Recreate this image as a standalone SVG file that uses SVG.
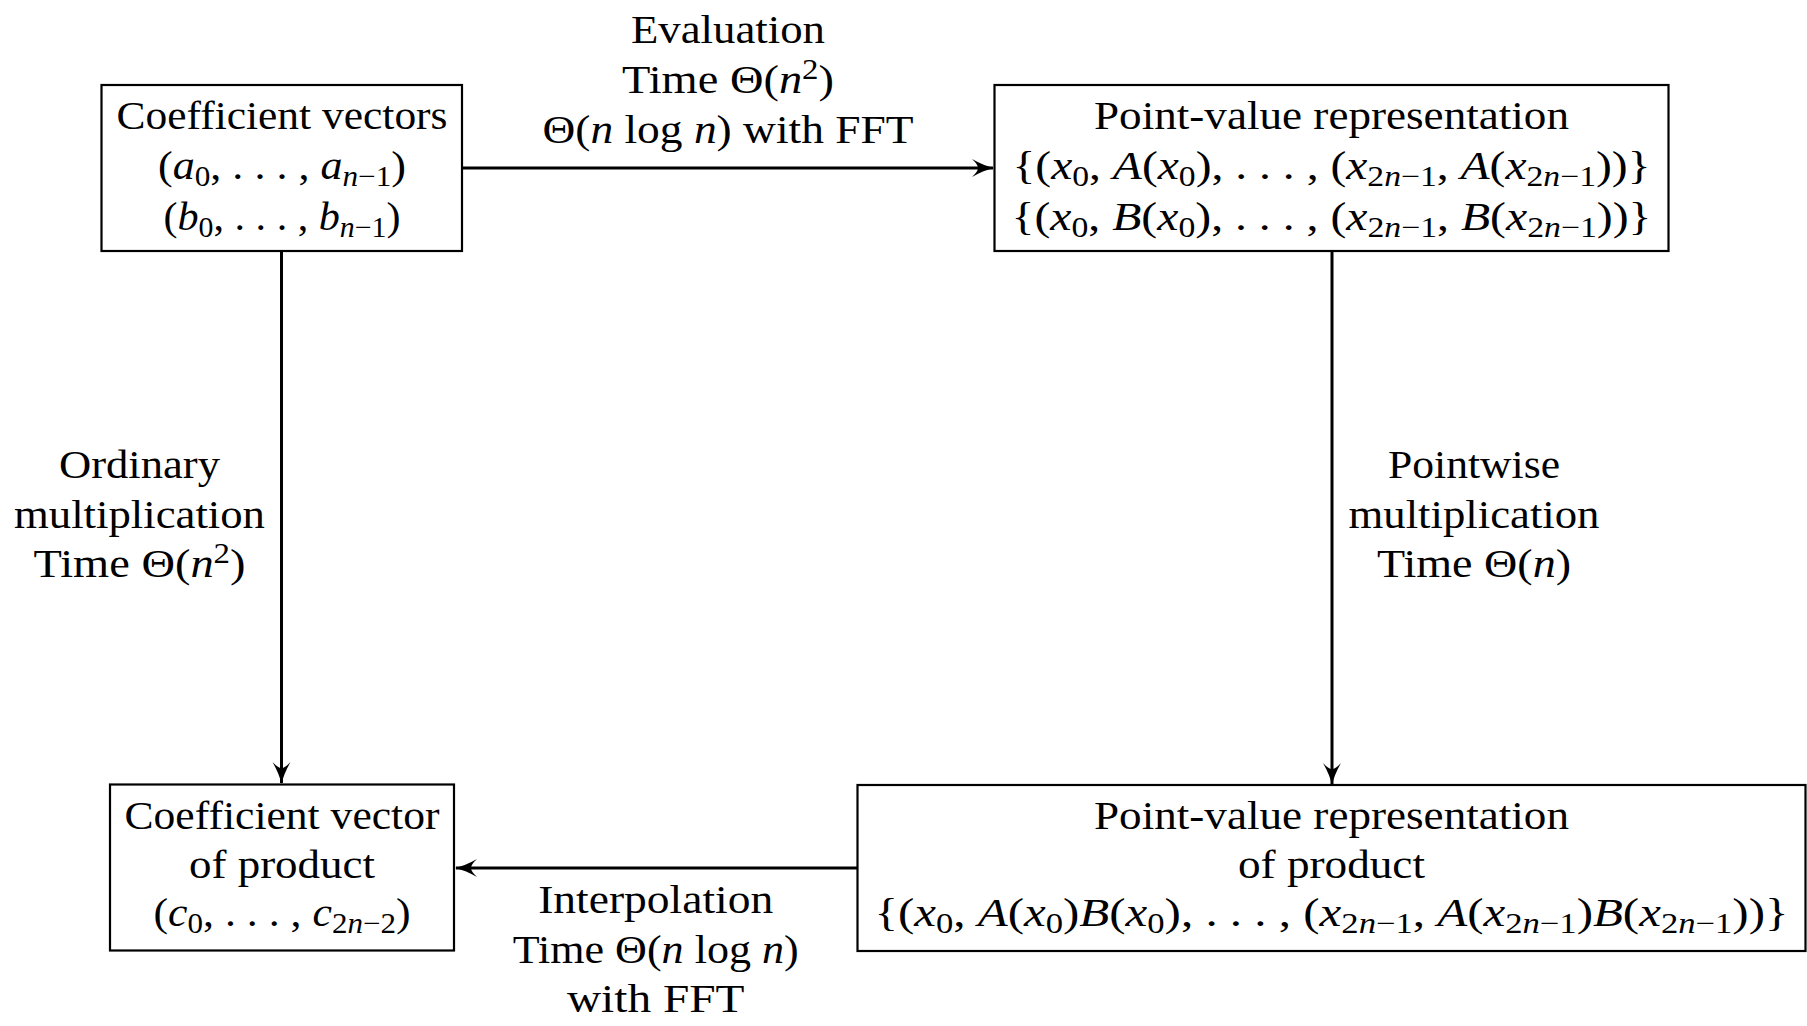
<svg xmlns="http://www.w3.org/2000/svg" width="1807" height="1026" viewBox="0 0 1807 1026">
<style>
text{font-family:"Liberation Serif","Times New Roman",serif;font-size:41px;fill:#000;text-anchor:middle}
.i{font-style:italic}
.s{font-size:29px}
.box{fill:#fff;stroke:#000;stroke-width:2.2}
.edge{fill:none;stroke:#000;stroke-width:3}
</style>
<defs>
<marker id="arr" markerUnits="userSpaceOnUse" viewBox="-24 -12 26 24" refX="0" refY="0" markerWidth="26" markerHeight="24" orient="auto">
<path d="M1,0 Q-9,-2.2 -21,-9 Q-15,-3.5 -15,0 Q-15,3.5 -21,9 Q-9,2.2 1,0 Z" fill="#000"/>
</marker>
</defs>
<rect width="1807" height="1026" fill="#fff"/>
<g id="connectors">
<line class="edge" x1="462" y1="168" x2="993" y2="168" marker-end="url(#arr)"/>
<line class="edge" x1="281.5" y1="251" x2="281.5" y2="783" marker-end="url(#arr)"/>
<line class="edge" x1="1332" y1="251" x2="1332" y2="784" marker-end="url(#arr)"/>
<line class="edge" x1="857" y1="868" x2="456" y2="868" marker-end="url(#arr)"/>
</g>
<g id="node-coef">
<rect class="box" x="101.5" y="85" width="360.5" height="166"/>
<text x="282" y="128.5" textLength="331" lengthAdjust="spacingAndGlyphs">Coefficient vectors</text>
<text x="282" y="179" textLength="248" lengthAdjust="spacingAndGlyphs">(<tspan class="i">a</tspan><tspan class="s" dy="7">0</tspan><tspan dy="-7">, . . . , </tspan><tspan class="i">a</tspan><tspan class="s" dy="7"><tspan class="i">n</tspan>−1</tspan><tspan dy="-7">)</tspan></text>
<text x="282" y="229.5" textLength="237" lengthAdjust="spacingAndGlyphs">(<tspan class="i">b</tspan><tspan class="s" dy="7">0</tspan><tspan dy="-7">, . . . , </tspan><tspan class="i">b</tspan><tspan class="s" dy="7"><tspan class="i">n</tspan>−1</tspan><tspan dy="-7">)</tspan></text>
</g>
<g id="node-pv">
<rect class="box" x="994.5" y="85" width="674" height="166"/>
<text x="1331.5" y="128.5" textLength="475" lengthAdjust="spacingAndGlyphs">Point-value representation</text>
<text x="1331.5" y="179" textLength="638" lengthAdjust="spacingAndGlyphs">{(<tspan class="i">x</tspan><tspan class="s" dy="7">0</tspan><tspan dy="-7">, </tspan><tspan class="i">A</tspan>(<tspan class="i">x</tspan><tspan class="s" dy="7">0</tspan><tspan dy="-7">), . . . , (</tspan><tspan class="i">x</tspan><tspan class="s" dy="7">2<tspan class="i">n</tspan>−1</tspan><tspan dy="-7">, </tspan><tspan class="i">A</tspan>(<tspan class="i">x</tspan><tspan class="s" dy="7">2<tspan class="i">n</tspan>−1</tspan><tspan dy="-7">))}</tspan></text>
<text x="1331.5" y="229.5" textLength="640" lengthAdjust="spacingAndGlyphs">{(<tspan class="i">x</tspan><tspan class="s" dy="7">0</tspan><tspan dy="-7">, </tspan><tspan class="i">B</tspan>(<tspan class="i">x</tspan><tspan class="s" dy="7">0</tspan><tspan dy="-7">), . . . , (</tspan><tspan class="i">x</tspan><tspan class="s" dy="7">2<tspan class="i">n</tspan>−1</tspan><tspan dy="-7">, </tspan><tspan class="i">B</tspan>(<tspan class="i">x</tspan><tspan class="s" dy="7">2<tspan class="i">n</tspan>−1</tspan><tspan dy="-7">))}</tspan></text>
</g>
<g id="node-coef-product">
<rect class="box" x="110" y="784.5" width="344" height="166"/>
<text x="282" y="829" textLength="315" lengthAdjust="spacingAndGlyphs">Coefficient vector</text>
<text x="282" y="878" textLength="186" lengthAdjust="spacingAndGlyphs">of product</text>
<text x="282" y="926" textLength="257" lengthAdjust="spacingAndGlyphs">(<tspan class="i">c</tspan><tspan class="s" dy="7">0</tspan><tspan dy="-7">, . . . , </tspan><tspan class="i">c</tspan><tspan class="s" dy="7">2<tspan class="i">n</tspan>−2</tspan><tspan dy="-7">)</tspan></text>
</g>
<g id="node-pv-product">
<rect class="box" x="857.5" y="785" width="948" height="166"/>
<text x="1331.5" y="829" textLength="475" lengthAdjust="spacingAndGlyphs">Point-value representation</text>
<text x="1331.5" y="878" textLength="187" lengthAdjust="spacingAndGlyphs">of product</text>
<text x="1331.5" y="926" textLength="914" lengthAdjust="spacingAndGlyphs">{(<tspan class="i">x</tspan><tspan class="s" dy="7">0</tspan><tspan dy="-7">, </tspan><tspan class="i">A</tspan>(<tspan class="i">x</tspan><tspan class="s" dy="7">0</tspan><tspan dy="-7">)</tspan><tspan class="i">B</tspan>(<tspan class="i">x</tspan><tspan class="s" dy="7">0</tspan><tspan dy="-7">), . . . , (</tspan><tspan class="i">x</tspan><tspan class="s" dy="7">2<tspan class="i">n</tspan>−1</tspan><tspan dy="-7">, </tspan><tspan class="i">A</tspan>(<tspan class="i">x</tspan><tspan class="s" dy="7">2<tspan class="i">n</tspan>−1</tspan><tspan dy="-7">)</tspan><tspan class="i">B</tspan>(<tspan class="i">x</tspan><tspan class="s" dy="7">2<tspan class="i">n</tspan>−1</tspan><tspan dy="-7">))}</tspan></text>
</g>
<g id="labels">
<text x="728" y="43" textLength="194" lengthAdjust="spacingAndGlyphs">Evaluation</text>
<text x="728" y="93" textLength="212" lengthAdjust="spacingAndGlyphs">Time Θ(<tspan class="i">n</tspan><tspan class="s" dy="-14">2</tspan><tspan dy="14">)</tspan></text>
<text x="728" y="143" textLength="371" lengthAdjust="spacingAndGlyphs">Θ(<tspan class="i">n</tspan> log <tspan class="i">n</tspan>) with FFT</text>
<text x="139.5" y="478" textLength="161" lengthAdjust="spacingAndGlyphs">Ordinary</text>
<text x="139.5" y="527.5" textLength="251" lengthAdjust="spacingAndGlyphs">multiplication</text>
<text x="139.5" y="577" textLength="212" lengthAdjust="spacingAndGlyphs">Time Θ(<tspan class="i">n</tspan><tspan class="s" dy="-14">2</tspan><tspan dy="14">)</tspan></text>
<text x="1474" y="478" textLength="172" lengthAdjust="spacingAndGlyphs">Pointwise</text>
<text x="1474" y="527.5" textLength="251" lengthAdjust="spacingAndGlyphs">multiplication</text>
<text x="1474" y="577" textLength="194" lengthAdjust="spacingAndGlyphs">Time Θ(<tspan class="i">n</tspan>)</text>
<text x="655.7" y="913" textLength="235" lengthAdjust="spacingAndGlyphs">Interpolation</text>
<text x="655.7" y="962.5" textLength="286" lengthAdjust="spacingAndGlyphs">Time Θ(<tspan class="i">n</tspan> log <tspan class="i">n</tspan>)</text>
<text x="655.7" y="1011.5" textLength="177.5" lengthAdjust="spacingAndGlyphs">with FFT</text>
</g>
</svg>
